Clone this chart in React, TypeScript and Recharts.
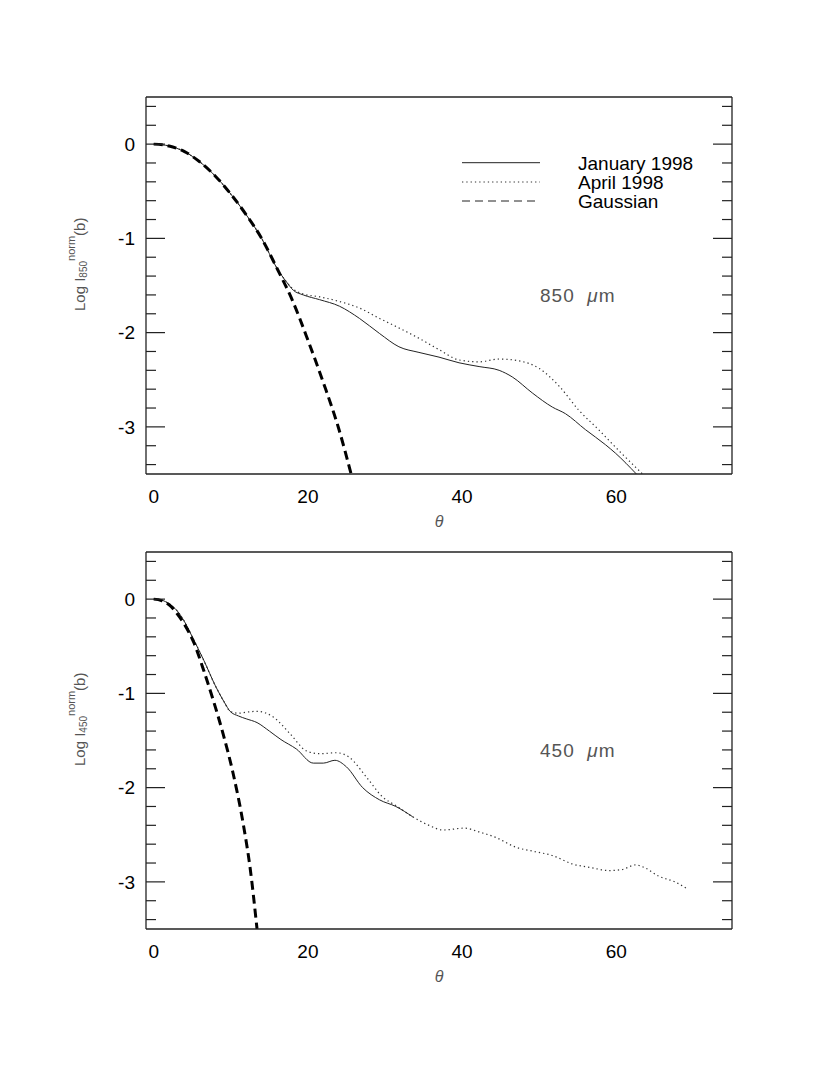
import { Line, LineChart, XAxis, YAxis } from 'recharts';

const FONT = '"Liberation Sans", Arial, Helvetica, sans-serif';

// tick positions
const xMajorTicks = [0, 20, 40, 60];
const xMinorTicks = [0, 5, 10, 15, 20, 25, 30, 35, 40, 45, 50, 55, 60, 65, 70];
const yMajorTicks = [-3, -2, -1, 0];
const yMinorTicks = [-3.4, -3.2, -3, -2.8, -2.6, -2.4, -2.2, -2, -1.8, -1.6, -1.4, -1.2, -1, -0.8, -0.6, -0.4, -0.2, 0, 0.2, 0.4];

// 850 micron panel (theta, log normalised intensity)
const topGaussTheta = [0, 2, 4, 6, 8, 10, 12, 14, 16, 18, 20, 22, 24, 25.6];
const topGaussLog = [0, -0.02, -0.08, -0.19, -0.34, -0.53, -0.75, -1.0, -1.32, -1.66, -2.08, -2.53, -3.02, -3.5];

const topJanTheta = [0, 2, 4, 6, 8, 10, 12, 14, 16, 17.2, 18.1, 19.4, 21.5, 24.1, 26.7, 29.3, 31.8, 34.4, 37.0, 39.6, 42.2, 44.8, 46.5, 49.1, 51.7, 53.4, 56.0, 58.6, 59.9, 62.6];
const topJanLog = [0, -0.02, -0.08, -0.19, -0.34, -0.53, -0.75, -1.0, -1.32, -1.46, -1.55, -1.6, -1.65, -1.72, -1.85, -2.01, -2.15, -2.21, -2.26, -2.32, -2.36, -2.4, -2.47, -2.64, -2.79, -2.86, -3.03, -3.19, -3.28, -3.5];

const topAprTheta = [0, 2, 4, 6, 8, 10, 12, 14, 16, 17.2, 18.1, 19.4, 21.5, 24.1, 26.7, 29.3, 31.8, 34.4, 37.0, 39.6, 42.2, 44.8, 47.4, 50.0, 52.6, 55.1, 57.7, 60.3, 62.9, 63.4];
const topAprLog = [0, -0.02, -0.08, -0.19, -0.34, -0.53, -0.75, -1.0, -1.32, -1.46, -1.54, -1.59, -1.62, -1.67, -1.74, -1.85, -1.95, -2.06, -2.18, -2.29, -2.31, -2.28, -2.3, -2.38, -2.57, -2.82, -3.03, -3.25, -3.46, -3.5];

// 450 micron panel
const botGaussTheta = [0, 1, 2, 3, 4, 5.2, 6.5, 7.75, 9.0, 10.3, 11.6, 12.5, 13.4];
const botGaussLog = [0, -0.015, -0.06, -0.15, -0.27, -0.46, -0.76, -1.08, -1.43, -1.85, -2.38, -2.85, -3.5];

const botJanTheta = [0, 1, 2, 3, 4, 5, 6.5, 8, 9.2, 9.9, 11, 12, 13.4, 15, 16.5, 18.5, 20.7, 22, 23.5, 25, 27.1, 29.3, 31.4, 33.6];
const botJanLog = [0, -0.01, -0.05, -0.12, -0.24, -0.4, -0.65, -0.92, -1.1, -1.19, -1.24, -1.27, -1.31, -1.4, -1.49, -1.59, -1.74, -1.74, -1.71, -1.78, -2.0, -2.13, -2.2, -2.31];

const botAprTheta = [0, 1, 2, 3, 4, 5, 6.5, 8, 9.2, 9.9, 11, 12, 13.4, 15.5, 17.7, 19.8, 21.5, 23.7, 25.4, 27.6, 29.7, 31.4, 33.6, 35.7, 37.5, 40.3, 42.2, 44.4, 46.9, 49.5, 51.7, 54.3, 56.8, 59.0, 60.7, 62.5, 63.7, 65.5, 67.6, 69.3];
const botAprLog = [0, -0.01, -0.05, -0.12, -0.24, -0.4, -0.65, -0.92, -1.1, -1.19, -1.21, -1.2, -1.19, -1.25, -1.43, -1.61, -1.64, -1.63, -1.68, -1.89, -2.1, -2.19, -2.31, -2.4, -2.45, -2.43, -2.47, -2.53, -2.63, -2.68, -2.72, -2.81, -2.85, -2.88, -2.87, -2.82, -2.85, -2.94, -3.0, -3.08];

type Pt = { t: number; v: number };
const zip = (t: number[], v: number[]): Pt[] => t.map((x, i) => ({ t: x, v: v[i] }));

const X_DOMAIN: [number, number] = [-1, 75];
const Y_DOMAIN: [number, number] = [-3.5, 0.5];
const AXIS = '#222';
const tickFont = { fontSize: 19, fill: '#000', fontFamily: FONT };

type Side = 'top' | 'bottom' | 'left' | 'right';

// inward tick: long on the labelled values, short elsewhere
function inwardTick(side: Side) {
  const majors = side === 'top' || side === 'bottom' ? xMajorTicks : yMajorTicks;
  return (props: any) => {
    const { x, y, payload } = props;
    const len = majors.some((m) => Math.abs(m - payload.value) < 1e-6) ? 19 : 10;
    const dx = side === 'left' ? len : side === 'right' ? -len : 0;
    const dy = side === 'top' ? len : side === 'bottom' ? -len : 0;
    return <line x1={x} y1={y} x2={x + dx} y2={y + dy} stroke={AXIS} strokeWidth={1.2} />;
  };
}

function frameAxes() {
  const common = {
    mirror: true,
    type: 'number' as const,
    allowDataOverflow: true,
    interval: 0 as const,
    tickLine: false,
    tickSize: 0,
    tickMargin: 0,
    stroke: AXIS,
    axisLine: { stroke: AXIS, strokeWidth: 1.3 },
  };
  return [
    <XAxis key="fb" xAxisId="fb" orientation="bottom" domain={X_DOMAIN} ticks={xMinorTicks} tick={inwardTick('bottom')} {...common} />,
    <XAxis key="ft" xAxisId="ft" orientation="top" domain={X_DOMAIN} ticks={xMinorTicks} tick={inwardTick('top')} {...common} />,
    <YAxis key="fl" yAxisId="fl" orientation="left" domain={Y_DOMAIN} ticks={yMinorTicks} tick={inwardTick('left')} {...common} />,
    <YAxis key="fr" yAxisId="fr" orientation="right" domain={Y_DOMAIN} ticks={yMinorTicks} tick={inwardTick('right')} {...common} />,
  ];
}

interface PanelProps {
  height: number;
  margin: { top: number; right: number; bottom: number; left: number };
  gauss: Pt[];
  jan: Pt[];
  apr: Pt[];
  band: string;
  legend?: boolean;
}

function Panel({ height, margin, gauss, jan, apr, band, legend }: PanelProps) {
  const top = margin.top;
  return (
    <div style={{ position: 'relative', width: 830, height }}>
      <LineChart width={830} height={height} margin={margin}>
        <XAxis
          xAxisId="x"
          type="number"
          dataKey="t"
          domain={X_DOMAIN}
          allowDataOverflow
          ticks={xMajorTicks}
          interval={0}
          tickLine={false}
          axisLine={false}
          tickSize={0}
          tickMargin={16}
          height={30}
          tick={tickFont}
        />
        <YAxis
          yAxisId="y"
          type="number"
          domain={Y_DOMAIN}
          allowDataOverflow
          ticks={yMajorTicks}
          interval={0}
          tickLine={false}
          axisLine={false}
          tickSize={0}
          tickMargin={11}
          width={40}
          tick={tickFont}
        />
        {frameAxes()}
        <Line
          xAxisId="x"
          yAxisId="y"
          data={apr}
          dataKey="v"
          type="monotone"
          stroke="#333"
          strokeWidth={1.2}
          strokeDasharray="1.3 3"
          dot={false}
          isAnimationActive={false}
        />
        <Line
          xAxisId="x"
          yAxisId="y"
          data={jan}
          dataKey="v"
          type="monotone"
          stroke="#222"
          strokeWidth={1}
          dot={false}
          isAnimationActive={false}
        />
        <Line
          xAxisId="x"
          yAxisId="y"
          data={gauss}
          dataKey="v"
          type="monotone"
          stroke="#000"
          strokeWidth={3}
          strokeDasharray="9 5"
          dot={false}
          isAnimationActive={false}
        />
      </LineChart>
      <svg
        width={830}
        height={height}
        style={{ position: 'absolute', left: 0, top: 0, pointerEvents: 'none' }}
      >
        <text
          transform={`translate(85 ${top + 214}) rotate(-90)`}
          fill="#555"
          fontFamily={FONT}
          fontSize={15}
        >
          Log I
          <tspan fontSize={10} dy={2}>{band}</tspan>
          <tspan fontSize={11} dy={-12}>norm</tspan>
          <tspan fontSize={15} dy={10}>(b)</tspan>
        </text>
        <text x={439} y={top + 430} textAnchor="middle" fill="#555" fontFamily={FONT} fontSize={16} fontStyle="italic">
          θ
        </text>
        <text x={540} y={top + 205} fill="#555" fontFamily={FONT} fontSize={19} letterSpacing={1}>
          {`${band}\u00a0\u00a0`}
          <tspan fontStyle="italic">μ</tspan>m
        </text>
        {legend && (
          <g fontFamily={FONT} fontSize={19} fill="#000">
            <line x1={462} x2={540} y1={top + 65.7} y2={top + 65.7} stroke="#222" strokeWidth={1} />
            <line x1={462} x2={540} y1={top + 85} y2={top + 85} stroke="#333" strokeWidth={1.2} strokeDasharray="1.3 3" />
            <line x1={462} x2={540} y1={top + 104} y2={top + 104} stroke="#222" strokeWidth={1} strokeDasharray="8 5" />
            <text x={578} y={top + 72.5}>January 1998</text>
            <text x={578} y={top + 91.8}>April 1998</text>
            <text x={578} y={top + 110.8}>Gaussian</text>
          </g>
        )}
      </svg>
    </div>
  );
}

export default function App() {
  return (
    <div style={{ position: 'absolute', left: 0, top: 0, width: 830, height: 1075, background: '#fff' }}>
      <Panel
        height={540}
        margin={{ top: 97, right: 98, bottom: 36, left: 106 }}
        gauss={zip(topGaussTheta, topGaussLog)}
        jan={zip(topJanTheta, topJanLog)}
        apr={zip(topAprTheta, topAprLog)}
        band="850"
        legend
      />
      <Panel
        height={535}
        margin={{ top: 12, right: 98, bottom: 116, left: 106 }}
        gauss={zip(botGaussTheta, botGaussLog)}
        jan={zip(botJanTheta, botJanLog)}
        apr={zip(botAprTheta, botAprLog)}
        band="450"
      />
    </div>
  );
}
